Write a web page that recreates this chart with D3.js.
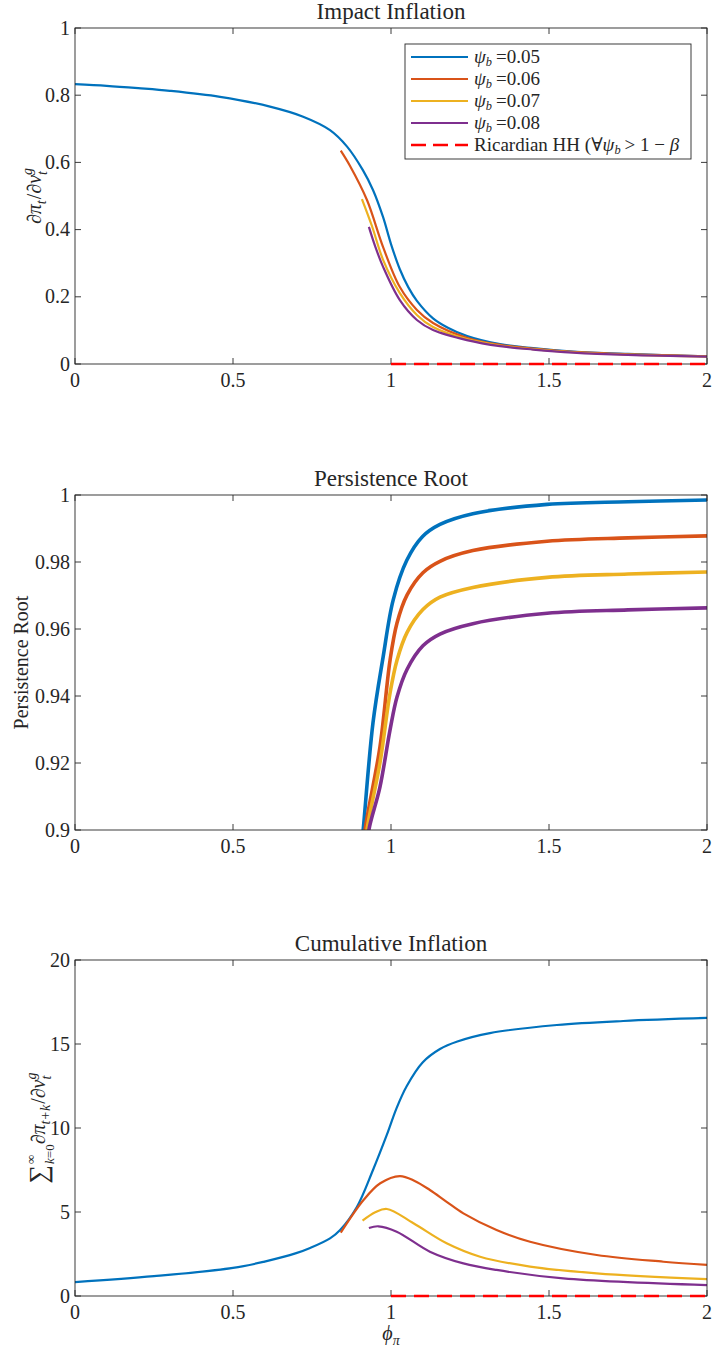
<!DOCTYPE html>
<html><head><meta charset="utf-8">
<script src="https://cdn.jsdelivr.net/npm/d3@7"></script>
<style>body{margin:0;background:#fff}</style></head>
<body><svg id="c" width="714" height="1353"></svg>
<script>
// ---------- data ----------
const xTicks = [0, 0.5, 1, 1.5, 2];
const yTicksImpact = [0, 0.2, 0.4, 0.6, 0.8, 1];
const yTicksRoot = [0.9, 0.92, 0.94, 0.96, 0.98, 1];
const yTicksCum = [0, 5, 10, 15, 20];
const seriesNames = ["0.05", "0.06", "0.07", "0.08"];
const seriesColors = ["#0072BD", "#D95319", "#EDB120", "#7E2F8E"];

// Impact inflation [phi, value]
const impact005 = [[0,0.833],[0.1,0.828],[0.2,0.821],[0.3,0.813],[0.459,0.795],[0.617,0.766],[0.722,0.736],[0.807,0.696],[0.861,0.647],[0.911,0.577],[0.943,0.518],[0.975,0.437],[1.0,0.357],[1.028,0.282],[1.055,0.228],[1.082,0.188],[1.133,0.136],[1.18,0.108],[1.241,0.083],[1.345,0.059],[1.45,0.047],[1.576,0.037],[1.75,0.03],[2.0,0.023]];
const impact006 = [[0.841,0.635],[0.87,0.59],[0.924,0.488],[0.975,0.348],[1.028,0.229],[1.082,0.161],[1.133,0.122],[1.24,0.078],[1.345,0.057],[1.45,0.046],[1.576,0.036],[1.75,0.029],[2.0,0.023]];
const impact007 = [[0.908,0.491],[0.94,0.41],[0.975,0.31],[1.028,0.211],[1.082,0.146],[1.133,0.11],[1.24,0.074],[1.345,0.055],[1.45,0.044],[1.576,0.035],[1.75,0.028],[2.0,0.022]];
const impact008 = [[0.93,0.408],[0.95,0.35],[0.975,0.289],[1.028,0.19],[1.082,0.131],[1.133,0.101],[1.24,0.071],[1.345,0.053],[1.45,0.043],[1.576,0.034],[1.75,0.027],[2.0,0.022]];
const ricardian = [[1,0],[2,0]];

// Persistence root
const root005 = [[0.904,0.892],[0.912,0.9],[0.943,0.932],[0.975,0.9516],[1.007,0.9687],[1.05,0.9805],[1.10,0.9876],[1.155,0.9912],[1.259,0.9944],[1.494,0.9972],[1.75,0.998],[2.0,0.9985]];
const root006 = [[0.912,0.893],[0.918,0.9],[0.965,0.9248],[0.997,0.9507],[1.019,0.9618],[1.051,0.9702],[1.101,0.9768],[1.155,0.9802],[1.259,0.9834],[1.494,0.9862],[1.75,0.9872],[2.0,0.9878]];
const root007 = [[0.918,0.893],[0.924,0.9],[0.965,0.92],[0.997,0.9409],[1.019,0.9507],[1.051,0.959],[1.101,0.9658],[1.155,0.9695],[1.259,0.9724],[1.494,0.9754],[1.75,0.9764],[2.0,0.977]];
const root008 = [[0.925,0.894],[0.93,0.9],[0.965,0.9128],[0.997,0.9299],[1.019,0.9397],[1.051,0.948],[1.101,0.955],[1.155,0.9585],[1.259,0.9616],[1.494,0.9647],[1.75,0.9657],[2.0,0.9663]];

// Cumulative inflation
const cum005 = [[0,0.83],[0.25,1.18],[0.5,1.67],[0.6,2.05],[0.7,2.55],[0.744,2.86],[0.807,3.43],[0.839,3.93],[0.892,5.3],[0.943,7.5],[0.987,9.6],[1.018,11.2],[1.05,12.5],[1.10,13.9],[1.155,14.7],[1.21,15.15],[1.313,15.65],[1.525,16.13],[1.735,16.37],[2.0,16.55]];
const cum006 = [[0.841,3.77],[0.913,5.71],[0.966,6.71],[1.028,7.14],[1.075,6.85],[1.123,6.31],[1.175,5.62],[1.229,4.92],[1.334,3.93],[1.44,3.23],[1.651,2.44],[1.862,2.04],[2.0,1.85]];
const cum007 = [[0.91,4.48],[0.95,4.98],[0.987,5.18],[1.071,4.33],[1.176,3.14],[1.282,2.34],[1.44,1.75],[1.651,1.35],[2.0,1.0]];
const cum008 = [[0.93,4.05],[0.96,4.15],[1.018,3.83],[1.123,2.64],[1.229,1.94],[1.334,1.55],[1.545,1.05],[2.0,0.65]];

// ---------- drawing ----------
const svg = d3.select("#c");
const FONT = "'Liberation Serif','DejaVu Serif', serif";
const FS = 20;
const TFS = 23;
const AX = "#262626";
const L = 75, R = 707;
const NB = "\u00A0";

function mathText(parent, parts, fs) {
  const g = parent.append("g");
  let x = 0; const starts = [];
  let maxEnd = 0;
  parts.forEach((p, i) => {
    let sx = x;
    if (p.stack) { sx = starts[i - p.stack]; }
    starts.push(sx);
    const t = g.append("text").attr("x", sx).attr("y", (p.dy || 0) * fs)
      .attr("font-family", FONT).attr("font-size", fs * (p.s || 1))
      .attr("font-style", p.it ? "italic" : "normal").attr("fill", AX).text(p.t);
    const w = t.node().getComputedTextLength();
    let end = sx + w + (p.pad || 0);
    if (p.stack) { end = Math.max(end, x); }
    x = end; maxEnd = Math.max(maxEnd, x);
  });
  return { g, width: maxEnd };
}

function panel(cfg) {
  const x = d3.scaleLinear().domain([0, 2]).range([L, R]);
  const y = d3.scaleLinear().domain(cfg.ydom).range([cfg.bottom, cfg.top]);
  const g = svg.append("g");
  const id = "clip" + cfg.top;
  svg.append("clipPath").attr("id", id).append("rect")
    .attr("x", L).attr("y", cfg.top).attr("width", R - L).attr("height", cfg.bottom - cfg.top);
  const line = d3.line().x(d => x(d[0])).y(d => y(d[1])).curve(d3.curveCatmullRom.alpha(0.5));
  const plot = g.append("g").attr("clip-path", `url(#${id})`);
  const tk = 6;
  const axg = g.append("g").attr("stroke", AX).attr("stroke-width", 0.9).attr("fill", "none");
  axg.append("rect").attr("x", L).attr("y", cfg.top).attr("width", R - L).attr("height", cfg.bottom - cfg.top);
  cfg.series.forEach((s, i) => {
    plot.append("path").datum(s).attr("d", line).attr("fill", "none")
      .attr("stroke", seriesColors[i]).attr("stroke-width", cfg.lw).attr("stroke-linejoin", "round");
  });
  if (cfg.ric) {
    g.append("path").datum(ricardian).attr("d", line).attr("fill", "none")
      .attr("stroke", "#FF0000").attr("stroke-width", 2.6).attr("stroke-dasharray", "15,8");
  }
  xTicks.forEach(t => {
    axg.append("line").attr("x1", x(t)).attr("x2", x(t)).attr("y1", cfg.bottom).attr("y2", cfg.bottom - tk);
    axg.append("line").attr("x1", x(t)).attr("x2", x(t)).attr("y1", cfg.top).attr("y2", cfg.top + tk);
    g.append("text").attr("x", x(t)).attr("y", cfg.bottom + 23).attr("text-anchor", "middle")
      .attr("font-family", FONT).attr("font-size", FS).attr("fill", AX).text(d3.format("")(t));
  });
  cfg.yticks.forEach(t => {
    axg.append("line").attr("x1", L).attr("x2", L + tk).attr("y1", y(t)).attr("y2", y(t));
    axg.append("line").attr("x1", R).attr("x2", R - tk).attr("y1", y(t)).attr("y2", y(t));
    g.append("text").attr("x", L - 5).attr("y", y(t) + 6.5).attr("text-anchor", "end")
      .attr("font-family", FONT).attr("font-size", FS).attr("fill", AX).text(d3.format("")(+t.toFixed(2)));
  });
  g.append("text").attr("x", (L + R) / 2).attr("y", cfg.top - 9).attr("text-anchor", "middle")
    .attr("font-family", FONT).attr("font-size", TFS).attr("fill", AX).text(cfg.title);
  const yl = g.append("g").attr("transform", `translate(${cfg.ylx},${(cfg.top + cfg.bottom) / 2}) rotate(-90)`);
  const m = mathText(yl, cfg.ylabel, FS);
  m.g.attr("transform", `translate(${-m.width / 2},0)`);
  return { x, y, g };
}

panel({ top: 28, bottom: 364, ydom: [0, 1], yticks: yTicksImpact, title: "Impact Inflation", lw: 2.2, ric: true,
  series: [impact005, impact006, impact007, impact008], ylx: 41,
  ylabel: [{t:"∂"},{t:"π",it:1},{t:"t",it:1,s:0.7,dy:0.25,pad:1},{t:"/"},{t:"∂"},{t:"ν",it:1},{t:"t",it:1,s:0.7,dy:0.3},{t:"g",it:1,s:0.7,dy:-0.45,stack:1}] });

panel({ top: 495, bottom: 830, ydom: [0.9, 1], yticks: yTicksRoot, title: "Persistence Root", lw: 3.6, ric: false,
  series: [root005, root006, root007, root008], ylx: 28,
  ylabel: [{t:"Persistence Root"}] });

panel({ top: 960, bottom: 1296, ydom: [0, 20], yticks: yTicksCum, title: "Cumulative Inflation", lw: 2.2, ric: true,
  series: [cum005, cum006, cum007, cum008], ylx: 45,
  ylabel: [{t:"∑",s:1.3,dy:0.08,pad:1},{t:"k",it:1,s:0.65,dy:0.45},{t:"=0",s:0.65,dy:0.45},{t:"∞",s:0.65,dy:-0.5,stack:2,pad:4},
           {t:"∂"},{t:"π",it:1},{t:"t+k",it:1,s:0.7,dy:0.25,pad:1},{t:"/"},{t:"∂"},{t:"ν",it:1},{t:"t",it:1,s:0.7,dy:0.3},{t:"g",it:1,s:0.7,dy:-0.45,stack:1}] });

// x label
{
  const xl = svg.append("g").attr("transform", "translate(391,1340)");
  const m = mathText(xl, [{t:"ϕ",it:1},{t:"π",it:1,s:0.7,dy:0.25}], FS);
  m.g.attr("transform", `translate(${-m.width / 2},0)`);
}

// legend
{
  const LFS = 19;
  const lg = svg.append("g");
  lg.append("rect").attr("x", 405).attr("y", 44).attr("width", 286).attr("height", 115)
    .attr("fill", "#fff").attr("stroke", AX).attr("stroke-width", 0.9);
  const rows = [57, 79, 101, 123, 145];
  seriesNames.forEach((n, i) => {
    lg.append("line").attr("x1", 411).attr("x2", 468).attr("y1", rows[i]).attr("y2", rows[i])
      .attr("stroke", seriesColors[i]).attr("stroke-width", 2.2);
    const t = lg.append("g").attr("transform", `translate(474,${rows[i] + 6})`);
    mathText(t, [{t:"ψ",it:1},{t:"b",it:1,s:0.65,dy:0.18,pad:4},{t:"=" + n}], LFS);
  });
  lg.append("line").attr("x1", 411).attr("x2", 468).attr("y1", rows[4]).attr("y2", rows[4])
    .attr("stroke", "#FF0000").attr("stroke-width", 2.6).attr("stroke-dasharray", "15,7");
  const t = lg.append("g").attr("transform", `translate(474,${rows[4] + 6})`);
  mathText(t, [{t:"Ricardian HH ("},{t:"∀"},{t:"ψ",it:1},{t:"b",it:1,s:0.65,dy:0.18,pad:4},{t:">" + NB + "1" + NB + "−" + NB},{t:"β",it:1}], LFS);
}
</script>
</body></html>
